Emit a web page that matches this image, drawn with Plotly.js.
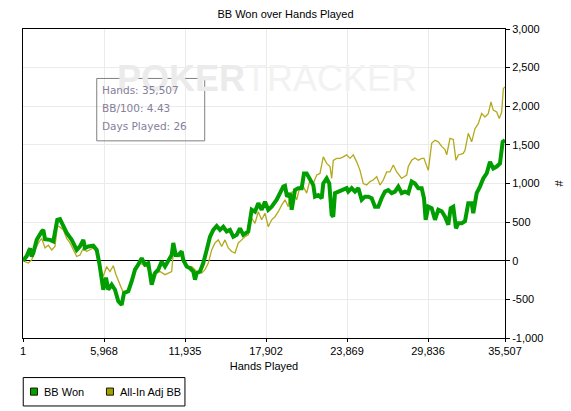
<!DOCTYPE html>
<html>
<head>
<meta charset="utf-8">
<script src="https://cdn.plot.ly/plotly-3.0.1.min.js"></script>
<style>html,body{margin:0;padding:0;background:#fff;}#chart{width:571px;height:411px;}</style>
</head>
<body>
<div id="chart"></div>
<script>
var chartTitle = "BB Won over Hands Played";
var seriesNames = ["BB Won", "All-In Adj BB"];
var xTickVals = [1, 5968, 11935, 17902, 23869, 29836, 35507];
var xTickText = ["1", "5,968", "11,935", "17,902", "23,869", "29,836", "35,507"];
var yTickVals = [-1000, -500, 0, 500, 1000, 1500, 2000, 2500, 3000];
var yTickText = ["-1,000", "-500", "0", "500", "1,000", "1,500", "2,000", "2,500", "3,000"];
var infoLines = ["Hands: 35,507", "BB/100: 4.43", "Days Played: 26"];

var handsWon = [1,273,517,642,760,1010,1378,1496,1622,1990,2233,2358,2528,2726,2970,3220,3588,3957,4200,4443,4568,4811,5179,5430,5621,5798,5916,6115,6284,6534,6778,7021,7271,7441,7758,8008,8251,8494,8744,8988,9231,9481,9724,9967,10218,10461,10704,10954,11072,11249,11440,11690,11808,12059,12302,12545,12671,12796,13039,13282,13532,13776,14019,14269,14512,14755,15005,15248,15491,15742,15985,16228,16596,16847,17090,17333,17583,17826,18069,18320,18688,18932,19176,19300,19450,19668,19793,20036,20279,20530,20699,20898,21141,21384,21510,21753,22003,22121,22371,22563,22739,22857,22983,23226,23594,23845,23963,24213,24456,24699,24950,25193,25436,25686,25930,26173,26423,26666,26909,27160,27403,27646,27896,28140,28383,28633,28876,29119,29369,29539,29664,29856,30106,30349,30592,30843,31086,31329,31506,31697,31896,32066,32316,32559,32802,33052,33170,33420,33663,33906,34157,34400,34643,34893,35136,35335,35507];
var bbWon = [0,60,160,55,100,270,380,400,280,270,250,360,530,540,440,360,270,140,185,270,165,185,195,140,-30,-245,-375,-220,-375,-310,-375,-525,-570,-420,-395,-265,-115,-50,35,-50,-30,-310,-160,-115,-10,-75,10,75,230,75,75,120,10,-75,-95,-140,-245,-160,-140,-30,140,310,400,450,400,440,380,400,310,335,420,335,380,660,635,745,660,765,660,700,790,870,960,970,830,870,660,915,940,940,1130,1130,1065,980,830,850,810,1000,1065,1000,595,570,875,895,915,940,895,940,895,940,790,830,830,810,700,700,810,895,915,875,895,960,875,895,875,1025,1000,940,940,810,530,700,680,530,660,640,570,465,680,700,420,485,485,510,745,745,615,875,960,1065,1130,1280,1195,1220,1260,1540,1560];

var handsAdj = [1,391,642,885,1128,1378,1622,1865,2115,2358,2528,2726,2970,3220,3463,3706,3957,4200,4443,4693,4936,5179,5430,5673,5916,6166,6409,6652,6852,7095,7345,7588,7883,8126,8376,8619,8862,9113,9481,9724,10093,10461,10704,10954,11072,11322,11566,11690,11934,12177,12427,12796,13164,13407,13651,13901,14144,14387,14637,14880,15124,15374,15617,15860,16110,16354,16596,16847,17090,17333,17583,17826,18069,18320,18563,18806,19056,19300,19543,19668,19911,20162,20405,20648,20898,21141,21384,21635,21878,22003,22121,22371,22614,22739,22857,23108,23351,23594,23845,24088,24331,24582,24825,25068,25318,25561,25805,26055,26298,26541,26791,27034,27278,27528,27896,28265,28383,28633,28876,29119,29369,29539,29738,29856,30106,30349,30592,30843,31086,31211,31455,31697,31896,32066,32434,32559,32802,33052,33296,33539,33789,34032,34275,34474,34643,34893,35085,35262,35387,35507];
var bbAdj = [0,-30,10,140,230,290,165,200,140,185,450,435,400,290,230,140,55,75,165,120,140,165,120,-75,-200,-75,-140,-65,-180,-290,-395,-395,-350,-200,-75,-30,-55,-75,-180,-160,-140,-180,-160,-140,100,55,55,75,-10,-95,-75,-140,-160,-115,-30,140,230,270,185,270,165,120,100,230,270,310,335,550,485,635,530,615,440,530,570,635,720,790,700,875,895,790,960,960,875,1045,1000,1110,1130,1220,1345,1260,1220,1065,1300,1325,1325,1345,1370,1325,1370,1280,1170,1000,980,1025,1045,1090,980,1045,1150,1150,1240,1150,1065,1110,1220,1300,1330,1300,1325,1325,1220,1170,1520,1560,1540,1480,1440,1370,1585,1570,1300,1370,1390,1430,1650,1540,1710,1775,1905,1860,1905,2055,1950,1925,1840,1925,2230,2250];

var lineColors = ["#009e00", "#b3a91c"];
var swatchColors = ["#00a000", "#a0a000"];

var traces = [
  {x: handsAdj, y: bbAdj, type: "scatter", mode: "lines", name: seriesNames[1],
   line: {color: lineColors[1], width: 1.3}, hoverinfo: "skip"},
  {x: handsWon, y: bbWon, type: "scatter", mode: "lines", name: seriesNames[0],
   line: {color: lineColors[0], width: 4}, hoverinfo: "skip"}
];

var fontFam = "Liberation Sans, Arial, sans-serif";
var annotations = [
  {xref: "paper", yref: "paper", x: 0.506, y: 0.841, xanchor: "center", yanchor: "middle", showarrow: false,
   text: "<b><span style='color:#ebebeb'>POKER</span></b>TRACKER",
   font: {family: "Liberation Sans, sans-serif", size: 36, color: "#f2f2f2"}}
];
var infoY = [0.803, 0.743, 0.686];
for (var i = 0; i < infoLines.length; i++) {
  annotations.push({xref: "paper", yref: "paper", x: 0.159, y: infoY[i], xanchor: "left", yanchor: "middle",
    showarrow: false, text: infoLines[i], font: {family: "DejaVu Sans, sans-serif", size: 10.5, color: "#85809a"}});
}
// legend (drawn as decoration so swatch/text spacing matches)
var legendTextX = [0.0394, 0.197];
var legendSwX = [[0.0156, 0.0301], [0.1732, 0.1877]];
var shapes = [
  {type: "rect", xref: "paper", yref: "paper", x0: 0.153, x1: 0.377, y0: 0.638, y1: 0.840,
   line: {color: "#808080", width: 1}, fillcolor: "rgba(255,255,255,0)", layer: "above"},
  {type: "rect", xref: "paper", yref: "paper", x0: 0.0005, x1: 0.336, y0: -0.220, y1: -0.128,
   line: {color: "#000", width: 1}, fillcolor: "#fff"}
];
for (var j = 0; j < seriesNames.length; j++) {
  annotations.push({xref: "paper", yref: "paper", x: legendTextX[j], y: -0.174, xanchor: "left", yanchor: "middle",
    showarrow: false, text: seriesNames[j], font: {family: fontFam, size: 11, color: "#000"}});
  shapes.push({type: "rect", xref: "paper", yref: "paper", x0: legendSwX[j][0], x1: legendSwX[j][1],
    y0: -0.185, y1: -0.162, line: {color: "#1a1a00", width: 1}, fillcolor: swatchColors[j]});
}

var layout = {
  width: 571, height: 411,
  margin: {l: 23, r: 66, t: 29, b: 73, pad: 0, autoexpand: false},
  paper_bgcolor: "#ffffff", plot_bgcolor: "#ffffff",
  font: {family: fontFam, size: 11, color: "#000"},
  title: {text: chartTitle, x: 0.5, xanchor: "center", y: 0.965, yanchor: "middle", font: {family: fontFam, size: 11, color: "#000"}},
  xaxis: {
    range: [1, 35507], tickmode: "array", tickvals: xTickVals, ticktext: xTickText,
    showgrid: true, gridcolor: "#ebebeb", gridwidth: 1, zeroline: false,
    showline: true, linecolor: "#000", linewidth: 1, mirror: true,
    ticks: "outside", ticklen: 3, tickcolor: "#000",
    tickfont: {family: fontFam, size: 11, color: "#000"},
    title: {text: "Hands Played", font: {family: fontFam, size: 11, color: "#000"}, standoff: 6},
    fixedrange: true
  },
  yaxis: {
    side: "right", range: [-1000, 3000], tickmode: "array", tickvals: yTickVals, ticktext: yTickText,
    showgrid: true, gridcolor: "#ebebeb", gridwidth: 1,
    zeroline: true, zerolinecolor: "#000", zerolinewidth: 1,
    showline: true, linecolor: "#000", linewidth: 1, mirror: true,
    ticks: "outside", ticklen: 4, tickcolor: "#000",
    tickfont: {family: fontFam, size: 11, color: "#000"},
    title: {text: "#", font: {family: fontFam, size: 11, color: "#000"}, standoff: 12},
    fixedrange: true
  },
  showlegend: false,
  shapes: shapes,
  annotations: annotations
};

Plotly.newPlot("chart", traces, layout, {displayModeBar: false, staticPlot: true});
</script>
</body>
</html>
